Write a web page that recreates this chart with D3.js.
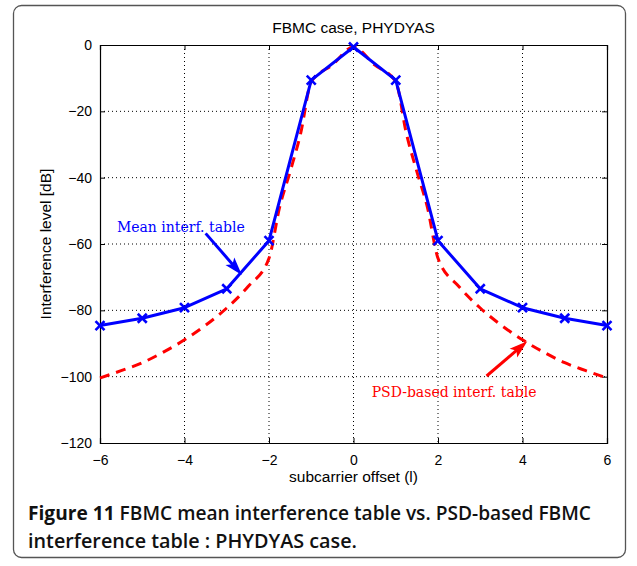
<!DOCTYPE html>
<html>
<head>
<meta charset="utf-8">
<script src="https://cdn.jsdelivr.net/npm/d3@7"></script>
<style>
  body { margin: 0; background: #fff; }
  text { font-family: "Liberation Sans", Arial, sans-serif; }
</style>
</head>
<body>
<svg id="chart" width="637" height="566"></svg>
<script>
// values
var offsets   = [-6, -5, -4, -3, -2, -1, 0, 1, 2, 3, 4, 5, 6];
var meanTable = [-84.6, -82.4, -79.2, -73.5, -59, -10.6, -0.6, -10.6, -59, -73.5, -79.2, -82.4, -84.6];

var psdOffsets = [-6, -5.5, -5, -4.5, -4, -3.5, -3, -2.5, -2, -1.75, -1.5, -1.25, -1, -0.5, 0,
                  0.5, 1, 1.25, 1.5, 1.75, 2, 2.5, 3, 3.5, 4, 4.5, 5, 5.5, 6];
var psdTable   = [-100.4, -98.2, -95.8, -92.6, -88.9, -84.5, -79.3, -72.9, -64.3, -49, -38.2, -26.6, -11.1, -6, -0.6,
                  -6, -11.1, -26.6, -38.2, -49, -64.3, -72.9, -79.3, -84.5, -88.9, -92.6, -95.8, -98.2, -100.4];

var xTicks = [-6, -4, -2, 0, 2, 4, 6];
var yTicks = [0, -20, -40, -60, -80, -100, -120];

var svg = d3.select("#chart");
var margin = {left: 100, right: 30, top: 45, bottom: 123};
var width = 637 - margin.left - margin.right;
var height = 566 - margin.top - margin.bottom;

// outer frame of the figure
svg.append("rect")
    .attr("x", 13.5).attr("y", 5.5)
    .attr("width", 612).attr("height", 552)
    .attr("rx", 8).attr("ry", 8)
    .attr("fill", "none")
    .attr("stroke", "#555")
    .attr("stroke-width", 1.3);

var x = d3.scaleLinear().domain([-6, 6]).range([0, width]);
var y = d3.scaleLinear().domain([-120, 0]).range([height, 0]);

var g = svg.append("g")
    .attr("transform", "translate(" + margin.left + "," + margin.top + ")");

// dotted grid
g.append("g").selectAll("line")
  .data(xTicks.slice(1, -1))
  .join("line")
    .attr("x1", x).attr("x2", x)
    .attr("y1", 0).attr("y2", height)
    .attr("stroke", "#000")
    .attr("stroke-width", 1)
    .attr("stroke-dasharray", "1,3");

g.append("g").selectAll("line")
  .data(yTicks.slice(1, -1))
  .join("line")
    .attr("x1", 0).attr("x2", width)
    .attr("y1", y).attr("y2", y)
    .attr("stroke", "#000")
    .attr("stroke-width", 1)
    .attr("stroke-dasharray", "1,3");

// axes, matlab style (ticks inward on all four sides)
var fmt = d3.format("");
g.append("g")
    .attr("transform", "translate(0," + height + ")")
    .call(d3.axisBottom(x).tickValues(xTicks).tickSize(-5).tickPadding(12).tickFormat(fmt));
g.append("g")
    .call(d3.axisLeft(y).tickValues(yTicks).tickSize(-5).tickPadding(8).tickFormat(fmt));
g.append("g")
    .call(d3.axisTop(x).tickValues(xTicks).tickSize(-5).tickFormat(""));
g.append("g")
    .attr("transform", "translate(" + width + ",0)")
    .call(d3.axisRight(y).tickValues(yTicks).tickSize(-5).tickFormat(""));

g.selectAll(".domain").attr("stroke", "#000").attr("stroke-width", 1.2);
g.selectAll(".tick line").attr("stroke", "#000");
g.selectAll(".tick text")
    .style("font-family", "'Liberation Sans', Arial, sans-serif")
    .style("font-size", "14px")
    .attr("fill", "#000");

// PSD-based table (red dashed)
var psdLine = d3.line()
    .x(function(d, i) { return x(psdOffsets[i]); })
    .y(function(d) { return y(d); })
    .curve(d3.curveMonotoneX);

g.append("path")
    .datum(psdTable)
    .attr("d", psdLine)
    .attr("fill", "none")
    .attr("stroke", "#ff0000")
    .attr("stroke-width", 3)
    .attr("stroke-dasharray", "10,7");

// mean interference table (blue, x markers)
var meanLine = d3.line()
    .x(function(d, i) { return x(offsets[i]); })
    .y(function(d) { return y(d); });

g.append("path")
    .datum(meanTable)
    .attr("d", meanLine)
    .attr("fill", "none")
    .attr("stroke", "#0000ff")
    .attr("stroke-width", 3)
    .attr("stroke-linejoin", "round");

var m = 4.5;
g.append("g").selectAll("path")
  .data(meanTable)
  .join("path")
    .attr("transform", function(d, i) { return "translate(" + x(offsets[i]) + "," + y(d) + ")"; })
    .attr("d", "M" + (-m) + "," + (-m) + "L" + m + "," + m + "M" + (-m) + "," + m + "L" + m + "," + (-m))
    .attr("stroke", "#0000ff")
    .attr("stroke-width", 2.6);

// annotations (arrow from -> to, in data units)
var notes = [
  {text: "Mean interf. table", color: "#0000ff", tx: -5.6, ty: -56.3, from: [-3.5, -56.8], to: [-2.68, -68.8]},
  {text: "PSD-based interf. table", color: "#ff0000", tx: 0.43, ty: -106, from: [3.15, -99.8], to: [4.07, -89.8]}
];

notes.forEach(function(n) {
  var x1 = x(n.from[0]), y1 = y(n.from[1]);
  var x2 = x(n.to[0]), y2 = y(n.to[1]);
  var a = Math.atan2(y2 - y1, x2 - x1);
  var L = 11, W = 4.5, back = 3;
  g.append("line")
      .attr("x1", x1).attr("y1", y1)
      .attr("x2", x2 - Math.cos(a) * 6).attr("y2", y2 - Math.sin(a) * 6)
      .attr("stroke", n.color)
      .attr("stroke-width", 3);
  var p = function(dl, dw) {
    return [x2 - Math.cos(a) * dl - Math.sin(a) * dw, y2 - Math.sin(a) * dl + Math.cos(a) * dw];
  };
  var head = [p(0, 0), p(L + back, W), p(L, 0), p(L + back, -W)];
  g.append("path")
      .attr("d", "M" + head.join("L") + "Z")
      .attr("fill", n.color)
      .attr("stroke", n.color)
      .attr("stroke-width", 1.5)
      .attr("stroke-linejoin", "miter");
  g.append("text")
      .attr("x", x(n.tx)).attr("y", y(n.ty))
      .style("font-family", "'DejaVu Serif', 'Liberation Serif', serif")
      .style("font-size", "14px")
      .attr("fill", n.color)
      .text(n.text);
});

// titles
svg.append("text")
    .attr("x", margin.left + width / 2).attr("y", 33)
    .attr("text-anchor", "middle")
    .style("font-size", "15.5px")
    .text("FBMC case, PHYDYAS");

svg.append("text")
    .attr("x", margin.left + width / 2).attr("y", 482)
    .attr("text-anchor", "middle")
    .style("font-size", "15.5px")
    .text("subcarrier offset (l)");

svg.append("text")
    .attr("transform", "translate(51," + (margin.top + height / 2) + ") rotate(-90)")
    .attr("text-anchor", "middle")
    .style("font-size", "15.5px")
    .text("Interference level [dB]");

// caption
var line1 = svg.append("text")
    .attr("x", 28).attr("y", 520)
    .attr("textLength", 563).attr("lengthAdjust", "spacingAndGlyphs")
    .style("font-family", "'Open Sans', 'Noto Sans', sans-serif")
    .style("font-size", "19.5px")
    .style("font-weight", 600)
    .attr("fill", "#111");
line1.append("tspan").style("font-weight", 700).text("Figure 11 ");
line1.append("tspan").text("FBMC mean interference table vs. PSD-based FBMC");

svg.append("text")
    .attr("x", 28).attr("y", 548)
    .attr("textLength", 329).attr("lengthAdjust", "spacingAndGlyphs")
    .style("font-family", "'Open Sans', 'Noto Sans', sans-serif")
    .style("font-size", "19.5px")
    .style("font-weight", 600)
    .attr("fill", "#111")
    .text("interference table : PHYDYAS case.");
</script>
</body>
</html>
